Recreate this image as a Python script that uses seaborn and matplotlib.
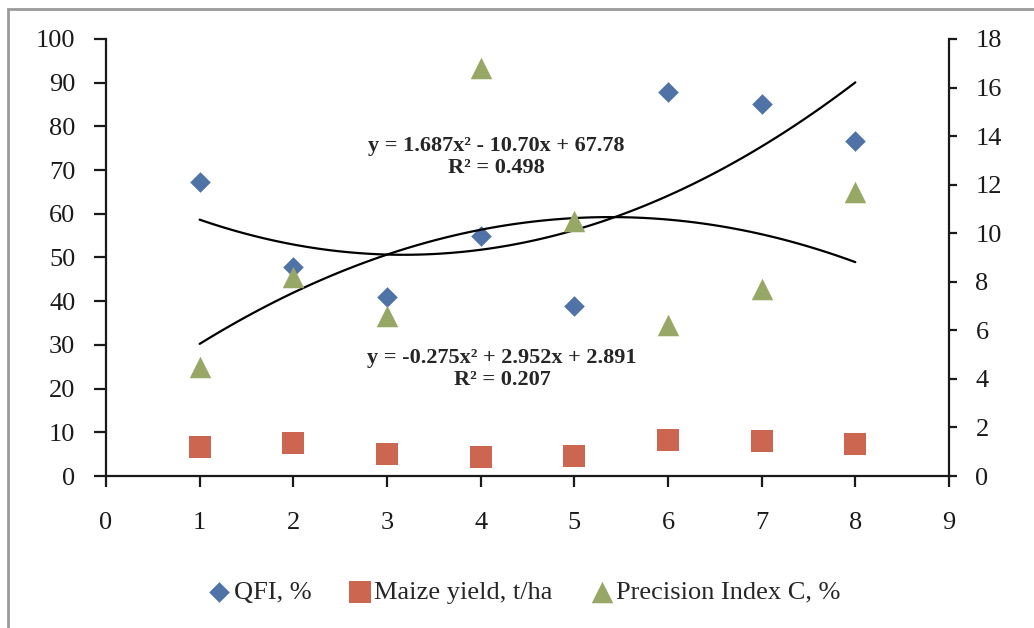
import matplotlib
matplotlib.use("Agg")
import matplotlib.pyplot as plt
import seaborn as sns
import pandas as pd
from matplotlib.patches import Rectangle

# data
trial = [1, 2, 3, 4, 5, 6, 7, 8]
qfi = [67.3, 47.9, 41.0, 55.0, 38.9, 87.9, 85.2, 76.7]          # left axis
maize_yield = [6.6, 7.5, 5.0, 4.4, 4.6, 8.2, 7.9, 7.3]          # left axis
precision_c = [4.5, 8.2, 6.6, 16.8, 10.5, 6.2, 7.7, 11.7]       # right axis

eq_qfi = "y = 1.687x² - 10.70x + 67.78\nR² = 0.498"
eq_prec = "y = -0.275x² + 2.952x + 2.891\nR² = 0.207"

df = pd.DataFrame({"x": trial, "qfi": qfi, "maize": maize_yield, "prec": precision_c})

sns.set_style("ticks")
plt.rcParams["font.family"] = ["Liberation Serif", "DejaVu Serif"]

blue = "#4f73a6"
red = "#cd6650"
green = "#97a766"

fig = plt.figure(figsize=(10.34, 6.28), dpi=100)
ax = fig.add_axes([0.1025, 0.242, 0.8153, 0.696])
ax2 = ax.twinx()

sns.scatterplot(data=df, x="x", y="qfi", ax=ax, marker="D", s=110, color=blue,
                linewidth=0, label="QFI, %", legend=False, zorder=3)
sns.scatterplot(data=df, x="x", y="maize", ax=ax, marker="s", s=250, color=red,
                linewidth=0, label="Maize yield, t/ha", legend=False, zorder=3)
sns.scatterplot(data=df, x="x", y="prec", ax=ax2, marker="^", s=240, color=green,
                linewidth=0, label="Precision Index C, %", legend=False, zorder=3)

# polynomial trendlines
sns.regplot(data=df, x="x", y="qfi", ax=ax, order=2, ci=None, scatter=False,
            line_kws={"color": "black", "lw": 1.6})
sns.regplot(data=df, x="x", y="prec", ax=ax2, order=2, ci=None, scatter=False,
            line_kws={"color": "black", "lw": 1.6})

ax.set_xlim(0, 9)
ax.set_ylim(0, 100)
ax2.set_ylim(0, 18)
ax.set_xticks(range(0, 10))
ax.set_yticks(range(0, 101, 10))
ax2.set_yticks(range(0, 19, 2))
for a in (ax, ax2):
    a.set_xlabel("")
    a.set_ylabel("")
    a.spines["top"].set_visible(False)
    for s in a.spines.values():
        s.set_linewidth(1.6)
        s.set_color("#1a1a1a")
ax.spines["right"].set_visible(False)
ax2.spines["left"].set_visible(False)
ax2.spines["bottom"].set_visible(False)

ax.tick_params(axis="y", labelsize=19, length=9, width=1.6, pad=13, colors="#1a1a1a")
ax.tick_params(axis="x", labelsize=19, length=8, width=1.6, pad=18, colors="#1a1a1a")
ax2.tick_params(axis="y", labelsize=19, length=6, width=1.6, pad=13, colors="#1a1a1a")

ax.text(4.17, 73.0, eq_qfi, ha="center", va="center", fontsize=16,
        fontweight="bold", linespacing=1.15)
ax2.text(4.23, 4.4, eq_prec, ha="center", va="center", fontsize=16,
         fontweight="bold", linespacing=1.15)

handles = ax.collections[:2] + ax2.collections[:1]
labels = ["QFI, %", "Maize yield, t/ha", "Precision Index C, %"]
fig.legend(handles, labels, loc="center", bbox_to_anchor=(0.506, 0.057), ncol=3,
           frameon=False, fontsize=19, handlelength=1.0, handletextpad=0.05,
           columnspacing=1.35, markerscale=1.0)

fig.patches.append(Rectangle((8 / 1034, -0.05), 1.1, 1 - 9 / 628 + 0.05,
                             transform=fig.transFigure, fill=False,
                             edgecolor="#9a9a9a", lw=2))

fig.savefig("out.png", dpi=100)
